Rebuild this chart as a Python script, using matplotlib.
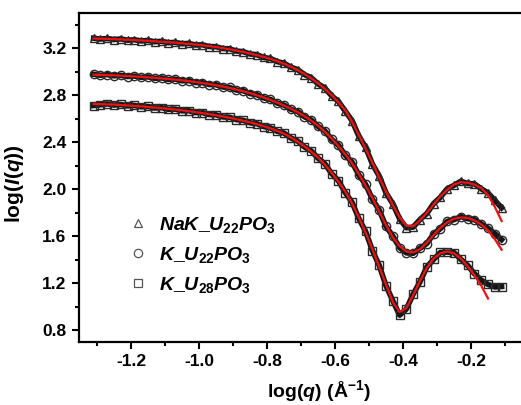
import matplotlib
matplotlib.use("Agg")
import matplotlib.pyplot as plt
from matplotlib.lines import Line2D
from matplotlib.ticker import MultipleLocator

plt.rcParams['font.family'] = ['Liberation Sans', 'DejaVu Sans']
plt.rcParams['font.weight'] = 'bold'
plt.rcParams['mathtext.fontset'] = 'custom'
plt.rcParams['mathtext.rm'] = 'Liberation Sans:bold'
plt.rcParams['mathtext.it'] = 'Liberation Sans:italic:bold'
plt.rcParams['mathtext.bf'] = 'Liberation Sans:bold'

log_q = [-1.31, -1.29, -1.27, -1.25, -1.23, -1.21, -1.19, -1.17, -1.15, -1.13,
         -1.11, -1.09, -1.07, -1.05, -1.03, -1.01, -0.99, -0.97, -0.95, -0.93,
         -0.91, -0.89, -0.87, -0.85, -0.83, -0.81, -0.79, -0.77, -0.75, -0.73,
         -0.71, -0.69, -0.67, -0.65, -0.63, -0.61, -0.59, -0.57, -0.55, -0.53,
         -0.51, -0.49, -0.47, -0.45, -0.43, -0.41, -0.39, -0.37, -0.35, -0.33,
         -0.31, -0.29, -0.27, -0.25, -0.23, -0.21, -0.19, -0.17, -0.15, -0.13,
         -0.11]

nak_u22_data = [3.285, 3.278, 3.283, 3.274, 3.279, 3.268, 3.272, 3.262, 3.266, 3.255,
                3.259, 3.247, 3.250, 3.238, 3.241, 3.227, 3.229, 3.214, 3.213, 3.197,
                3.195, 3.176, 3.171, 3.151, 3.145, 3.121, 3.113, 3.086, 3.072, 3.039,
                3.018, 2.976, 2.949, 2.897, 2.861, 2.795, 2.747, 2.665, 2.584, 2.452,
                2.356, 2.214, 2.112, 1.968, 1.876, 1.748, 1.672, 1.678, 1.742, 1.793,
                1.878, 1.932, 2.004, 2.033, 2.068, 2.049, 2.046, 2.004, 1.968, 1.905,
                1.842]
nak_u22_fit = [3.282, 3.281, 3.279, 3.277, 3.275, 3.272, 3.269, 3.266, 3.263, 3.259,
               3.255, 3.251, 3.247, 3.242, 3.237, 3.231, 3.225, 3.218, 3.210, 3.201,
               3.191, 3.180, 3.168, 3.155, 3.141, 3.126, 3.109, 3.090, 3.068, 3.043,
               3.014, 2.981, 2.944, 2.902, 2.855, 2.801, 2.740, 2.672, 2.575, 2.460,
               2.345, 2.225, 2.100, 1.980, 1.865, 1.760, 1.690, 1.685, 1.735, 1.800,
               1.870, 1.940, 1.995, 2.040, 2.060, 2.055, 2.040, 2.010, 1.950, 1.850,
               1.730]

k_u22_data = [2.978, 2.970, 2.975, 2.965, 2.969, 2.959, 2.963, 2.952, 2.956, 2.944,
              2.947, 2.934, 2.937, 2.923, 2.924, 2.908, 2.907, 2.891, 2.889, 2.870,
              2.866, 2.844, 2.838, 2.814, 2.804, 2.777, 2.764, 2.733, 2.716, 2.681,
              2.661, 2.617, 2.589, 2.535, 2.497, 2.425, 2.375, 2.290, 2.231, 2.121,
              2.041, 1.914, 1.822, 1.684, 1.601, 1.503, 1.458, 1.455, 1.497, 1.538,
              1.618, 1.665, 1.726, 1.741, 1.767, 1.749, 1.741, 1.704, 1.668, 1.622,
              1.571]
k_u22_fit = [2.975, 2.973, 2.971, 2.969, 2.966, 2.963, 2.960, 2.956, 2.952, 2.948,
             2.943, 2.938, 2.933, 2.927, 2.920, 2.912, 2.904, 2.895, 2.885, 2.874,
             2.862, 2.848, 2.834, 2.818, 2.800, 2.781, 2.760, 2.737, 2.712, 2.686,
             2.656, 2.622, 2.584, 2.541, 2.490, 2.432, 2.368, 2.298, 2.222, 2.130,
             2.030, 1.925, 1.810, 1.695, 1.590, 1.515, 1.470, 1.462, 1.490, 1.545,
             1.610, 1.672, 1.718, 1.748, 1.760, 1.755, 1.735, 1.700, 1.650, 1.575,
             1.485]

k_u28_data = [2.712, 2.718, 2.726, 2.716, 2.721, 2.709, 2.713, 2.701, 2.704, 2.691,
              2.694, 2.680, 2.682, 2.667, 2.668, 2.652, 2.652, 2.635, 2.633, 2.615,
              2.612, 2.592, 2.587, 2.565, 2.558, 2.533, 2.522, 2.493, 2.478, 2.436,
              2.410, 2.360, 2.326, 2.264, 2.217, 2.133, 2.072, 1.972, 1.889, 1.751,
              1.641, 1.478, 1.352, 1.178, 1.051, 0.928, 0.981, 1.108, 1.212, 1.338,
              1.403, 1.462, 1.465, 1.461, 1.404, 1.352, 1.281, 1.226, 1.190, 1.168,
              1.172]
k_u28_fit = [2.725, 2.724, 2.722, 2.720, 2.717, 2.713, 2.709, 2.705, 2.700, 2.695,
             2.690, 2.684, 2.678, 2.671, 2.664, 2.656, 2.648, 2.639, 2.629, 2.619,
             2.608, 2.596, 2.583, 2.569, 2.554, 2.537, 2.518, 2.497, 2.474, 2.440,
             2.405, 2.365, 2.320, 2.270, 2.210, 2.140, 2.065, 1.980, 1.880, 1.760,
             1.630, 1.490, 1.340, 1.190, 1.040, 0.955, 0.990, 1.100, 1.220, 1.330,
             1.410, 1.455, 1.470, 1.455, 1.410, 1.345, 1.270, 1.180, 1.070]

series = [
    (nak_u22_data, nak_u22_fit, '^', r'$NaK\_U_{22}PO_3$'),
    (k_u22_data, k_u22_fit, 'o', r'$K\_U_{22}PO_3$'),
    (k_u28_data, k_u28_fit, 's', r'$K\_U_{28}PO_3$'),
]

fig = plt.figure(figsize=(5.21, 4.05), dpi=100)
ax = fig.add_axes([0.1516, 0.1556, 0.8484, 0.8124])

for data, fit, mk, lab in series:
    ax.plot(log_q, data, color='#151515', lw=4.0, marker=mk, ms=6,
            mfc='none', mec='#2a2a2a', mew=1.0, zorder=2)
    ax.plot(log_q[:len(fit)], fit, color='#ee1111', lw=1.6, zorder=3)

handles = [Line2D([], [], ls='none', marker=mk, ms=6, mfc='none',
                  mec='#555555', mew=0.9) for _, _, mk, _ in series]
labels = [lab for _, _, _, lab in series]
leg = ax.legend(handles, labels, loc='center left',
                bbox_to_anchor=(0.072, 0.265), frameon=False,
                fontsize=14, handlelength=1.0, handletextpad=0.6,
                labelspacing=0.5)

ax.set_xlim(-1.353, -0.053)
ax.set_ylim(0.70, 3.50)
ax.xaxis.set_minor_locator(MultipleLocator(0.1))
ax.yaxis.set_minor_locator(MultipleLocator(0.2))
ax.set_xticks([-1.2, -1.0, -0.8, -0.6, -0.4, -0.2])
ax.set_xticklabels(['-1.2', '-1.0', '-0.8', '-0.6', '-0.4', '-0.2'])
ax.set_yticks([0.8, 1.2, 1.6, 2.0, 2.4, 2.8, 3.2])
ax.set_yticklabels(['0.8', '1.2', '1.6', '2.0', '2.4', '2.8', '3.2'])

ax.tick_params(which='major', direction='out', length=5, width=1.5,
               labelsize=12.5, pad=4)
ax.tick_params(which='minor', direction='out', length=3, width=1.5)
for lbl in ax.get_xticklabels() + ax.get_yticklabels():
    lbl.set_fontweight('bold')

for side in ['left', 'bottom', 'top']:
    ax.spines[side].set_linewidth(1.6)
ax.spines['right'].set_visible(False)

ax.set_xlabel(r'log($q$) (Å$^{-1}$)', fontsize=14, fontweight='bold')
ax.set_ylabel(r'log($I$($q$))', fontsize=15, fontweight='bold')
ax.xaxis.set_label_coords((319 - 79) / 442, -(378 - 342) / 329)
ax.yaxis.set_label_coords(-(79 - 26) / 442, (342 - 184) / 329)

fig.savefig('out.png', dpi=100)
